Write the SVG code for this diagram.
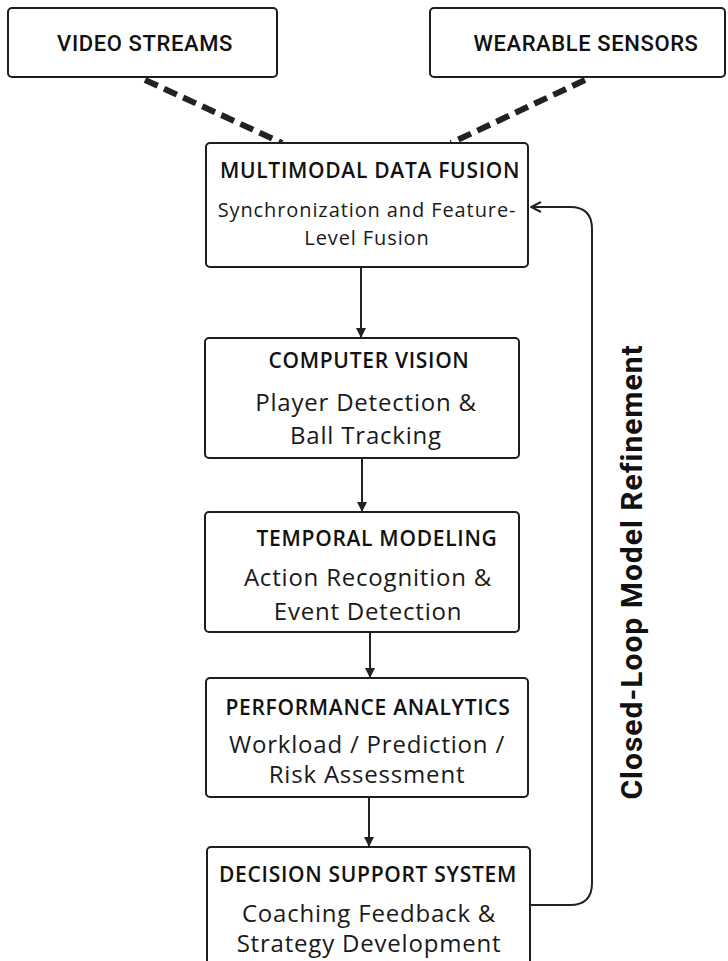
<svg xmlns="http://www.w3.org/2000/svg" width="728" height="961" viewBox="0 0 728 961">
<style>
.box{fill:#fff;stroke:#1e1e1e;stroke-width:2}
.t{font-family:"Open Sans","Liberation Sans",sans-serif;font-weight:600;font-size:21px;letter-spacing:0.7px;fill:#111;text-anchor:middle}
.s{font-family:"Open Sans","Liberation Sans",sans-serif;font-weight:400;font-size:24px;letter-spacing:0.8px;fill:#1a1a1a;text-anchor:middle}
.r{font-family:Roboto,"Liberation Sans",sans-serif;font-weight:500;font-size:22px;letter-spacing:0.6px;fill:#111;text-anchor:middle}
.c{fill:none;stroke:#222;stroke-width:2}
.d{fill:none;stroke:#222;stroke-width:6;stroke-dasharray:14 7}
</style>
<defs>
<marker id="ah" viewBox="0 0 10 10" refX="9" refY="5" markerWidth="10" markerHeight="10" markerUnits="userSpaceOnUse" orient="auto">
<path d="M0,0 L10,5 L0,10 Z" fill="#222"/>
</marker>
<marker id="ao" viewBox="0 0 12 12" refX="11" refY="6" markerWidth="12" markerHeight="12" markerUnits="userSpaceOnUse" orient="auto">
<path d="M1,1 L11,6 L1,11" fill="none" stroke="#222" stroke-width="2"/>
</marker>
</defs>
<rect width="728" height="961" fill="#fff"/>
<g id="connectors">
<line class="d" x1="145" y1="80" x2="282" y2="143"/>
<line class="d" x1="585" y1="80" x2="451" y2="143"/>
<line class="c" x1="361" y1="267" x2="361" y2="337" marker-end="url(#ah)"/>
<line class="c" x1="362" y1="458" x2="362" y2="511" marker-end="url(#ah)"/>
<line class="c" x1="370" y1="632" x2="370" y2="677" marker-end="url(#ah)"/>
<line class="c" x1="369" y1="797" x2="369" y2="846" marker-end="url(#ah)"/>
<path class="c" d="M530,905 L570,905 Q592,905 592,883 L592,229 Q592,207 570,207 L531,207" marker-end="url(#ao)"/>
</g>
<g id="video-streams">
<rect class="box" x="8" y="8" width="269" height="69" rx="4"/>
<text class="r" x="145" y="51">VIDEO STREAMS</text>
</g>
<g id="wearable-sensors">
<rect class="box" x="430" y="8" width="295" height="69" rx="4"/>
<text class="r" x="586" y="51">WEARABLE SENSORS</text>
</g>
<g id="multimodal">
<rect class="box" x="206" y="143" width="322" height="124" rx="4"/>
<text class="t" x="370" y="178">MULTIMODAL DATA FUSION</text>
<text class="s" x="367" y="217" style="font-size:20px;letter-spacing:0.9px">Synchronization and Feature-</text>
<text class="s" x="367" y="245" style="font-size:20px;letter-spacing:0.9px">Level Fusion</text>
</g>
<g id="computer-vision">
<rect class="box" x="205" y="338" width="314" height="120" rx="4"/>
<text class="t" x="369" y="368">COMPUTER VISION</text>
<text class="s" x="366" y="411">Player Detection &amp;</text>
<text class="s" x="366" y="444">Ball Tracking</text>
</g>
<g id="temporal-modeling">
<rect class="box" x="205" y="512" width="314" height="120" rx="4"/>
<text class="t" x="377" y="546">TEMPORAL MODELING</text>
<text class="s" x="368" y="586">Action Recognition &amp;</text>
<text class="s" x="368" y="620">Event Detection</text>
</g>
<g id="performance-analytics">
<rect class="box" x="206" y="678" width="322" height="119" rx="4"/>
<text class="t" x="368" y="715">PERFORMANCE ANALYTICS</text>
<text class="s" x="367" y="753">Workload / Prediction /</text>
<text class="s" x="367" y="783">Risk Assessment</text>
</g>
<g id="decision-support">
<rect class="box" x="207" y="847" width="323" height="130" rx="4"/>
<text class="t" x="368" y="882">DECISION SUPPORT SYSTEM</text>
<text class="s" x="369" y="922">Coaching Feedback &amp;</text>
<text class="s" x="369" y="952">Strategy Development</text>
</g>
<g id="loop-label">
<text class="r" x="0" y="0" transform="translate(642,572) rotate(-90)" style="font-size:30px;font-weight:700;letter-spacing:1px">Closed-Loop Model Refinement</text>
</g>
</svg>
